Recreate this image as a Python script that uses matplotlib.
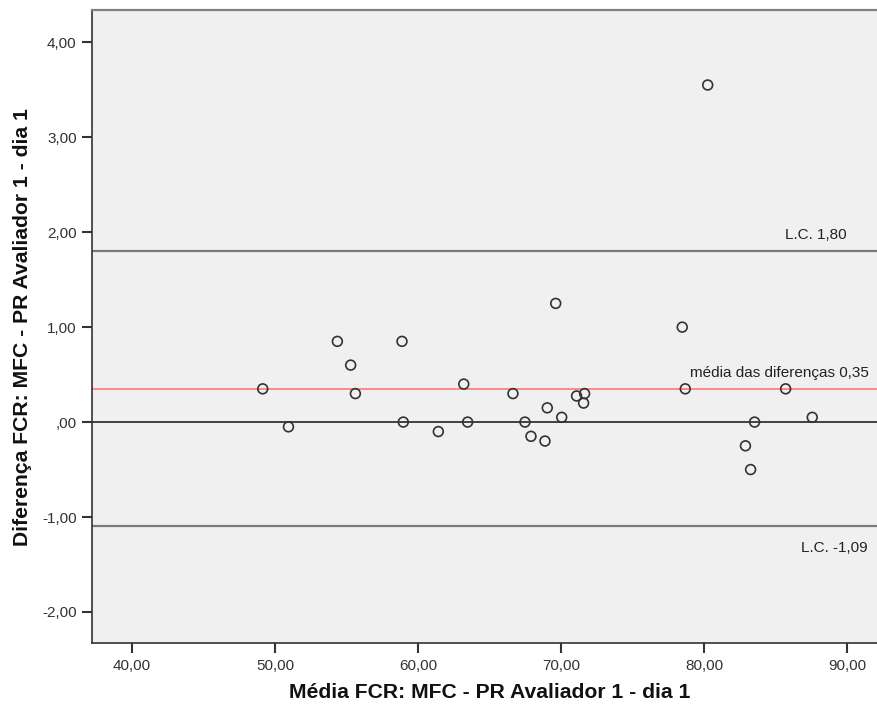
import matplotlib.pyplot as plt
from matplotlib.ticker import FuncFormatter

plt.rcParams['font.family'] = ['Liberation Sans', 'DejaVu Sans']

# dados
media = [49.14, 50.94, 54.36, 55.29, 55.62, 58.88, 58.97, 61.42, 63.20, 63.47,
         66.64, 67.48, 67.90, 68.88, 69.04, 69.63, 70.05, 71.09, 71.58, 71.65,
         78.48, 78.69, 80.26, 82.90, 83.26, 83.54, 85.71, 87.57]
diferenca = [0.35, -0.05, 0.85, 0.60, 0.30, 0.85, 0.00, -0.10, 0.40, 0.00,
             0.30, 0.00, -0.15, -0.20, 0.15, 1.25, 0.05, 0.275, 0.20, 0.30,
             1.00, 0.35, 3.55, -0.25, -0.50, 0.00, 0.35, 0.05]
media_dif = 0.35
lc_sup = 1.80
lc_inf = -1.09
x_ticks = [40, 50, 60, 70, 80, 90]
y_ticks = [-2, -1, 0, 1, 2, 3, 4]

fig = plt.figure(figsize=(8.77, 7.08), dpi=100)
ax = fig.add_axes([92/877, 1 - 643.3/708, 1 - 92/877, (643.3 - 10)/708])
ax.set_facecolor('#f0f0f0')

ax.axhline(lc_sup, color='#7a7a7a', lw=1.6, zorder=1)
ax.axhline(lc_inf, color='#7a7a7a', lw=1.6, zorder=1)
ax.axhline(0, color='#111111', lw=1.1, zorder=1)
ax.axhline(media_dif, color='#ff6b6b', lw=1.1, zorder=1)

ax.scatter(media, diferenca, s=50, facecolors='none', edgecolors='#333333',
           linewidths=1.2, zorder=3)

ax.text(90.0, 1.97, 'L.C. 1,80', ha='right', va='center', fontsize=11, color='#222222')
ax.text(91.47, -1.33, 'L.C. -1,09', ha='right', va='center', fontsize=11, color='#222222')
ax.text(91.54, 0.52, 'média das diferenças 0,35', ha='right', va='center',
        fontsize=11, color='#222222')

ax.set_xlim(37.2, 92.1)
ax.set_ylim(-2.33, 4.34)
ax.set_xticks(x_ticks)
ax.set_yticks(y_ticks)

def rotulo(v, pos):
    s = ('%.2f' % v).replace('.', ',')
    return ',00' if v == 0 else s

fmt = FuncFormatter(rotulo)
ax.xaxis.set_major_formatter(fmt)
ax.yaxis.set_major_formatter(fmt)
ax.tick_params(axis='both', direction='out', length=7, width=1.5, color='#333333',
               labelsize=11, labelcolor='#333333', pad=4)

ax.spines['right'].set_visible(False)
ax.spines['top'].set_color('#808080')
ax.spines['top'].set_linewidth(1.6)
ax.spines['left'].set_color('#333333')
ax.spines['left'].set_linewidth(1.2)
ax.spines['bottom'].set_color('#333333')
ax.spines['bottom'].set_linewidth(1.2)

ax.set_xlabel('Média FCR: MFC - PR Avaliador 1 - dia 1', fontsize=15.2,
              fontweight='bold', color='#111111')
ax.xaxis.set_label_coords((490 - 92) / (877 - 92), (643.3 - 693) / 633.3)
ax.xaxis.label.set_va('center')
ax.set_ylabel('Diferença FCR: MFC - PR Avaliador 1 - dia 1', fontsize=15.2,
              fontweight='bold', color='#111111', labelpad=7)

fig.savefig('out.png', dpi=100)
